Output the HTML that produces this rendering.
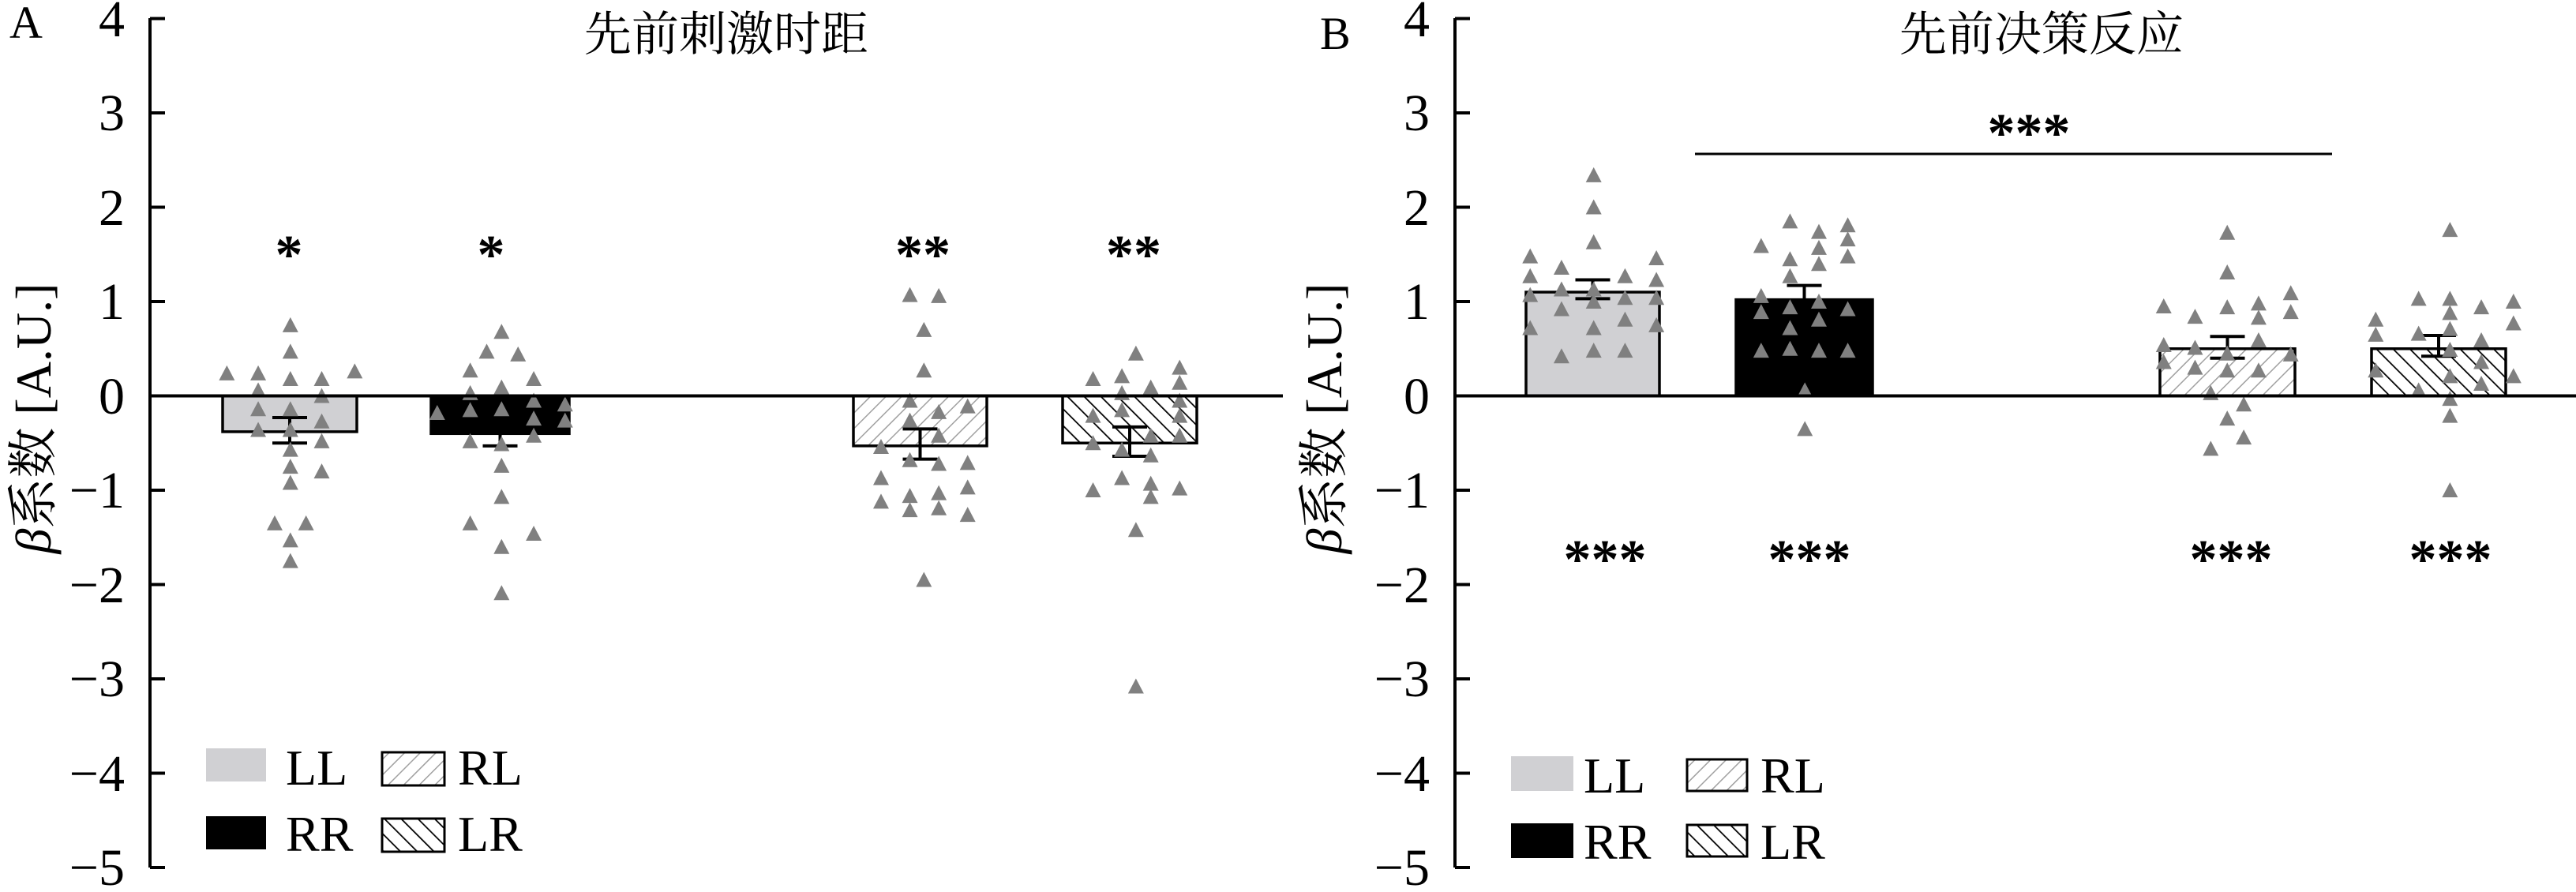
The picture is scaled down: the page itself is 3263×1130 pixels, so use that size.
<!DOCTYPE html>
<html><head><meta charset="utf-8"><style>
html,body{margin:0;padding:0;background:#fff;}
svg{display:block;}
text{font-family:"Liberation Serif","Noto Serif CJK SC","Noto Sans CJK SC",serif;fill:#000;}
</style></head><body>
<svg id="s" width="3263" height="1130" viewBox="0 0 3263 1130" xmlns="http://www.w3.org/2000/svg">
<defs>
<pattern id="rl" patternUnits="userSpaceOnUse" width="14" height="14" patternTransform="rotate(45)">
<rect width="14" height="14" fill="#fff"/><line x1="0" y1="0" x2="0" y2="14" stroke="#a0a0a0" stroke-width="3"/>
</pattern>
<pattern id="lr" patternUnits="userSpaceOnUse" width="15" height="15" patternTransform="rotate(-45)">
<rect width="15" height="15" fill="#fff"/><line x1="0" y1="0" x2="0" y2="15" stroke="#000" stroke-width="3.5"/>
</pattern>
</defs>
<g id="g"></g>
<!-- Panel A text -->
<text x="12" y="48" font-size="58">A</text>
<text x="920" y="64" font-size="60" text-anchor="middle">先前刺激时距</text>
<g font-size="66" text-anchor="end">
<text x="158" y="46">4</text><text x="158" y="165">3</text><text x="158" y="285">2</text><text x="158" y="404">1</text><text x="158" y="524">0</text>
<text x="158" y="643">−1</text><text x="158" y="763">−2</text><text x="158" y="882">−3</text><text x="158" y="1002">−4</text><text x="158" y="1121">−5</text>
</g>
<text transform="translate(64,530) rotate(-90)" font-size="64" text-anchor="middle"><tspan font-style="italic">β</tspan>系数 [A.U.]</text>
<g font-size="70" font-weight="bold" text-anchor="middle">
<text x="366" y="346">*</text><text x="622" y="346">*</text><text x="1169" y="346">**</text><text x="1436" y="346">**</text>
</g>
<rect x="261" y="948" width="76" height="42" fill="#d0d0d3"/>
<rect x="261" y="1034" width="76" height="42" fill="#000"/>
<rect x="484" y="953" width="79" height="42" fill="url(#rl)" stroke="#000" stroke-width="3"/>
<rect x="484" y="1037" width="79" height="42" fill="url(#lr)" stroke="#000" stroke-width="3"/>
<g font-size="64"><text x="362" y="994">LL</text><text x="580" y="994">RL</text><text x="362" y="1078">RR</text><text x="580" y="1078">LR</text></g>
<!-- Panel B text -->
<text x="1672" y="62" font-size="58">B</text>
<text x="2586" y="64" font-size="60" text-anchor="middle">先前决策反应</text>
<g font-size="66" text-anchor="end">
<text x="1811" y="46">4</text><text x="1811" y="165">3</text><text x="1811" y="285">2</text><text x="1811" y="404">1</text><text x="1811" y="524">0</text>
<text x="1811" y="643">−1</text><text x="1811" y="763">−2</text><text x="1811" y="882">−3</text><text x="1811" y="1002">−4</text><text x="1811" y="1121">−5</text>
</g>
<text transform="translate(1699,530) rotate(-90)" font-size="64" text-anchor="middle"><tspan font-style="italic">β</tspan>系数 [A.U.]</text>
<g font-size="70" font-weight="bold" text-anchor="middle">
<text x="2033" y="732">***</text><text x="2292" y="732">***</text><text x="2826" y="732">***</text><text x="3104" y="732">***</text>
<text x="2570" y="192">***</text>
</g>
<line x1="2147" y1="195" x2="2954" y2="195" stroke="#000" stroke-width="3"/>
<rect x="1914" y="958" width="79" height="44" fill="#d0d0d3"/>
<rect x="1914" y="1043" width="79" height="44" fill="#000"/>
<rect x="2137" y="962" width="76" height="40" fill="url(#rl)" stroke="#000" stroke-width="3"/>
<rect x="2137" y="1045" width="76" height="40" fill="url(#lr)" stroke="#000" stroke-width="3"/>
<g font-size="64"><text x="2006" y="1004">LL</text><text x="2230" y="1004">RL</text><text x="2006" y="1088">RR</text><text x="2230" y="1088">LR</text></g>
</svg>
<script>
var NS="http://www.w3.org/2000/svg",G=document.getElementById("g");
function Y(v){return 501.5-119.5*v;}
function el(t,a){var e=document.createElementNS(NS,t);for(var k in a)e.setAttribute(k,a[k]);G.appendChild(e);return e;}
function axes(ax,x2){
 el("line",{x1:ax,y1:23,x2:ax,y2:1099,stroke:"#000","stroke-width":4});
 for(var v=-5;v<=4;v++)el("line",{x1:ax,y1:Y(v),x2:ax+19,y2:Y(v),stroke:"#000","stroke-width":4});
}
function bar(x1,x2,v,fill,lo,hi){
 var y=Y(v),y0=Y(0);
 el("rect",{x:x1,y:Math.min(y,y0),width:x2-x1,height:Math.abs(y-y0),fill:fill,stroke:"#000","stroke-width":3.5});
 var c=(x1+x2)/2;
 el("line",{x1:c,y1:Y(lo),x2:c,y2:Y(hi),stroke:"#000","stroke-width":4});
 el("line",{x1:c-22,y1:Y(lo),x2:c+22,y2:Y(lo),stroke:"#000","stroke-width":4});
 el("line",{x1:c-22,y1:Y(hi),x2:c+22,y2:Y(hi),stroke:"#000","stroke-width":4});
}
function pts(off,arr){
 for(var i=0;i<arr.length;i+=2){var x=off+arr[i]/0.957,y=Y(arr[i+1]);
  el("polygon",{points:(x-10)+","+(y+9)+" "+(x+10)+","+(y+9)+" "+x+","+(y-10),fill:"#808080"});}
}
axes(190);axes(1843);
bar(282,452,-0.38,"#d0d0d3",-0.5,-0.23);
bar(546,721,-0.40,"#000",-0.53,-0.28);
bar(1081,1250,-0.53,"url(#rl)",-0.67,-0.35);
bar(1346,1516,-0.50,"url(#lr)",-0.64,-0.33);
bar(1933,2102,1.10,"#d0d0d3",1.03,1.23);
bar(2199,2372,1.02,"#000",0.87,1.17);
bar(2736,2907,0.50,"url(#rl)",0.40,0.63);
bar(3004,3174,0.50,"url(#lr)",0.42,0.64);
pts(0,[275,.24,313,.24,313,.06,313,-.14,313,-.36,352,.75,352,.47,352,.18,352,-.14,352,-.36,352,-.57,352,-.75,352,-.92,352,-1.53,352,-1.75,333,-1.35,371,-1.35,390,.18,390,0,390,-.27,390,-.48,390,-.8,430,.26]);
pts(0,[570,.27,590,.47,628,.44,608,.68,570,.03,608,.09,647,.18,530,-.18,570,-.15,608,-.14,647,-.05,647,-.24,685,-.09,685,-.26,570,-.48,608,-.51,647,-.42,608,-.74,608,-1.07,570,-1.35,647,-1.46,608,-1.6,608,-2.09]);
pts(0,[1103,1.07,1138,1.06,1120,.7,1120,.27,1103,-.05,1138,-.17,1173,-.11,1103,-.26,1138,-.42,1068,-.54,1103,-.68,1138,-.72,1173,-.71,1068,-.87,1068,-1.12,1103,-1.06,1138,-1.03,1173,-.97,1103,-1.21,1138,-1.19,1173,-1.26,1120,-1.95]);
pts(0,[1377,.45,1430,.3,1325,.18,1360,.21,1430,.14,1395,.09,1360,.03,1325,-.21,1360,-.15,1430,-.05,1430,-.21,1395,-.42,1430,-.42,1325,-.5,1360,-.57,1395,-.63,1360,-.87,1395,-.93,1325,-1,1430,-.98,1395,-1.07,1377,-1.42,1377,-3.08]);
pts(1630,[372,2.34,372,2,372,1.63,295,1.48,448,1.46,333,1.36,295,1.27,410,1.27,448,1.23,333,1.13,372,1.13,295,1.07,410,1.04,448,1.04,333,.92,372,1,410,.81,295,.72,372,.72,448,.75,333,.42,372,.48,410,.48]);
pts(1630,[610,1.85,680,1.81,645,1.74,575,1.59,645,1.57,680,1.66,610,1.45,645,1.4,680,1.48,610,1.27,575,1.06,645,1,610,.94,575,.89,680,.92,610,.72,645,.81,575,.48,610,.5,645,.48,680,.48,628,.06,628,-.35]);
pts(1630,[1140,1.73,1140,1.31,1063,.95,1101,.84,1140,.94,1178,.98,1217,1.09,1178,.83,1217,.89,1063,.54,1101,.51,1140,.45,1178,.59,1063,.36,1101,.3,1140,.27,1178,.27,1217,.44,1120,.03,1160,-.09,1140,-.24,1160,-.44,1120,-.56]);
pts(1630,[1410,1.76,1320,.81,1320,.65,1372,1.03,1410,1.03,1448,.94,1487,1,1487,.77,1410,.88,1410,.71,1372,.66,1448,.59,1410,.49,1448,.36,1320,.27,1410,.21,1487,.21,1448,.13,1372,.06,1410,-.03,1410,-.21,1410,-1]);
el("line",{x1:190,y1:Y(0),x2:1625,y2:Y(0),stroke:"#000","stroke-width":4});
el("line",{x1:1843,y1:Y(0),x2:3263,y2:Y(0),stroke:"#000","stroke-width":4});
</script>
</body></html>
